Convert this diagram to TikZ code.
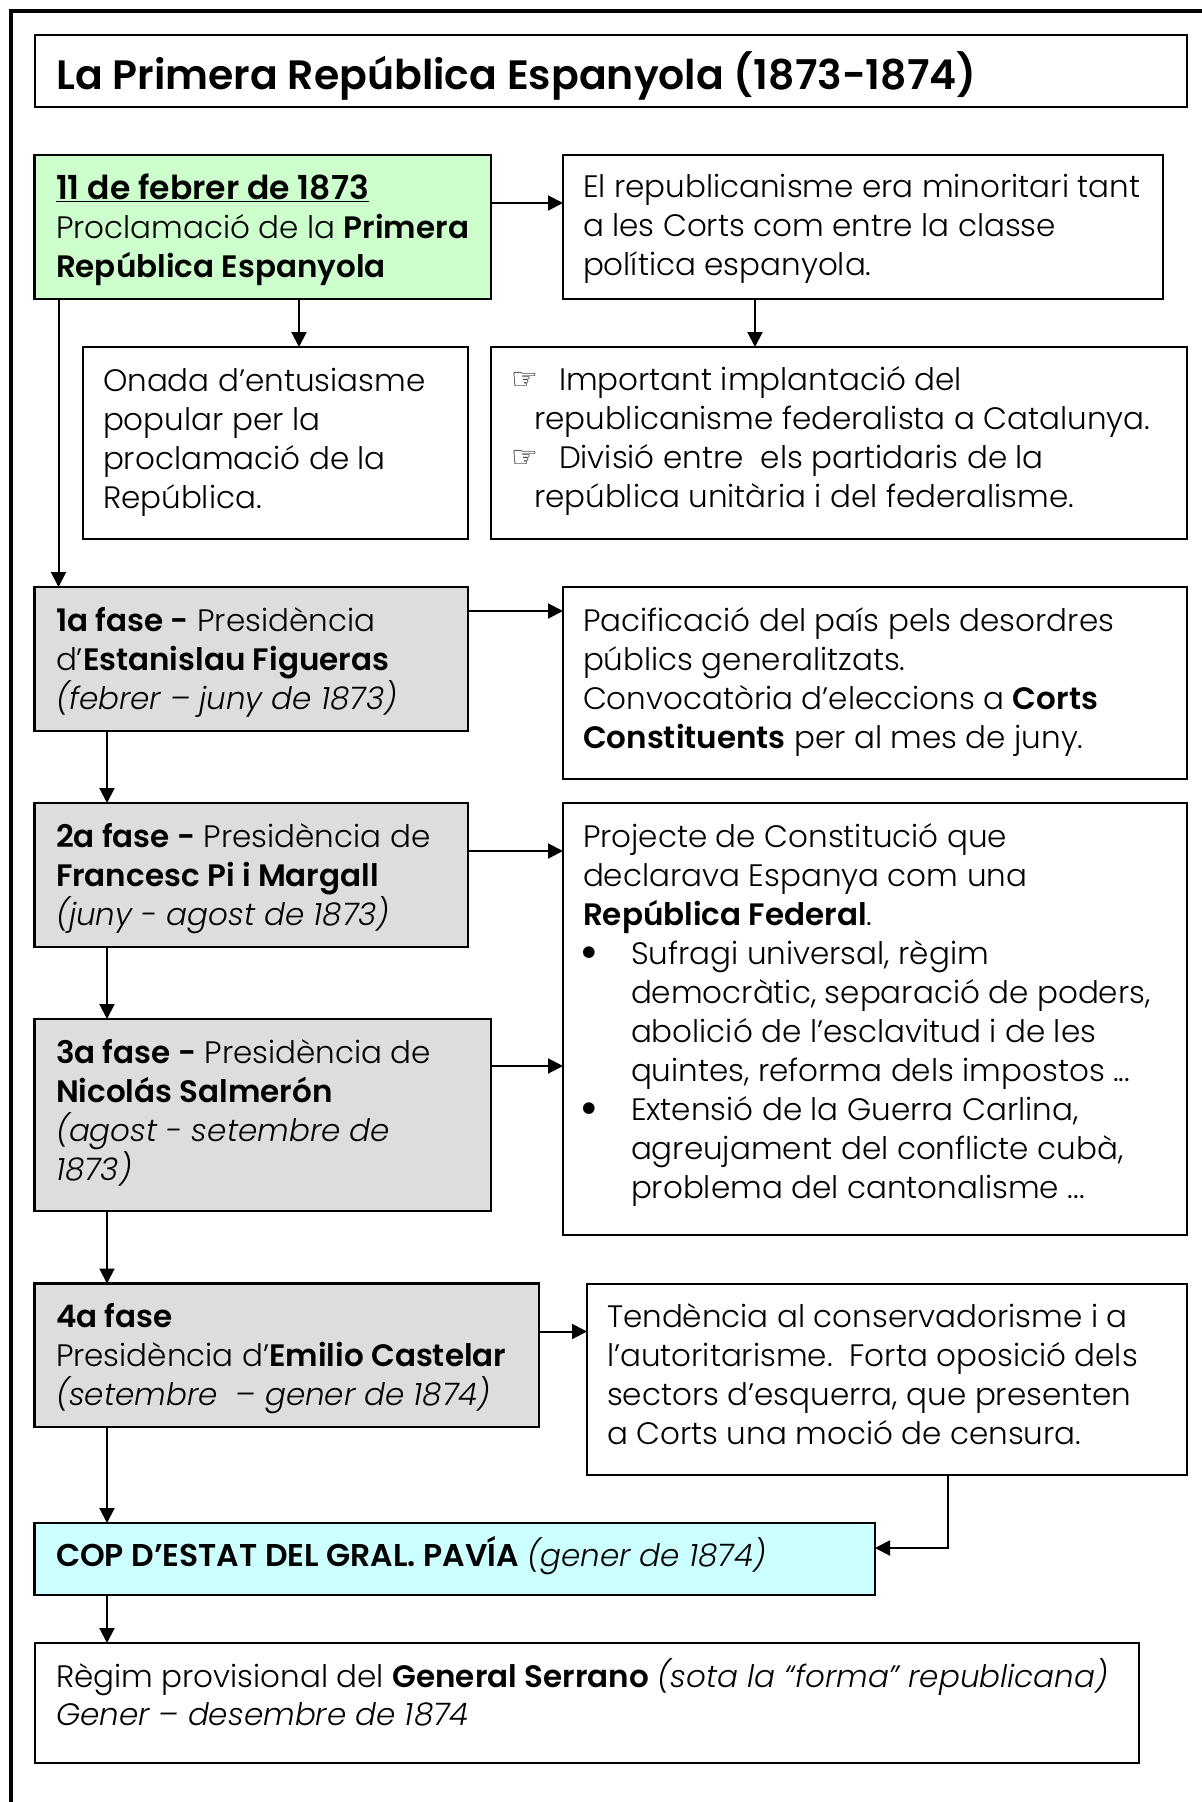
\documentclass[tikz,border=0pt]{standalone}
\usepackage{fontspec}
\setmainfont{Poppins}[UprightFont=Poppins Light,ItalicFont=Poppins Light Italic,BoldFont=Poppins SemiBold,BoldItalicFont=Poppins SemiBold Italic]
\newfontfamily\hand{DejaVu Sans}
\usetikzlibrary{arrows.meta}
\tikzset{
 x=1pt,y=-1pt,
 box/.style={draw=black,line width=2pt,anchor=north west,inner sep=0pt,outer sep=0pt},
 filled/.style={line width=2.8pt,fill=#1},
 txt/.style={anchor=north west,inner sep=0pt,outer sep=0pt,align=left,font=\fontsize{31}{39}\selectfont,execute at begin node=\strut},
 sym/.style={anchor=base west,inner sep=0pt,outer sep=0pt,font=\hand\fontsize{#1}{39}\selectfont},
 arr/.style={draw=black,line width=2pt,-{Triangle[length=15pt,width=15pt]}},
}
\definecolor{grn}{HTML}{CCFFCC}
\definecolor{gry}{HTML}{DDDDDD}
\definecolor{cyn}{HTML}{CCFFFF}
\newcommand{\bx}[6][]{\node[box,#1,minimum width=#4pt-#2pt,minimum height=#5pt-#3pt] (#6) at (#2,#3) {};}
\begin{document}
\begin{tikzpicture}
\useasboundingbox (0,0) rectangle (1202,1802);
\fill[white] (0,0) rectangle (1202,1802);
\coordinate (fa) at (11,1802); \coordinate (fb) at (11,11); \coordinate (fc) at (1202,11);
\draw[line width=3.4pt] (fa) -- (fb) -- (fc);
\bx{34.5}{34.5}{1187}{107}{title}
\bx[filled=grn]{34.5}{155}{491}{299}{green}
\bx{563}{155}{1163}{299}{rep}
\bx{83}{347}{468}{539}{onada}
\bx{491}{347}{1187}{539}{imp}
\bx[filled=gry]{34.5}{587}{468}{731}{f1}
\bx{563}{587}{1187}{779}{pac}
\bx[filled=gry]{34.5}{803}{468}{947}{f2}
\bx{563}{803}{1187}{1235}{proj}
\bx[filled=gry]{34.5}{1019}{491}{1211}{f3}
\bx[filled=gry]{34.5}{1283.5}{539}{1427}{f4}
\bx{587}{1283.5}{1187}{1475}{tend}
\bx[filled=cyn]{34.5}{1523}{875}{1595}{cop}
\bx{34.5}{1643}{1139}{1763}{reg}

\node[anchor=base west,inner sep=0pt,font=\fontsize{41}{48}\selectfont\bfseries] (ttxt) at (56,89) {La Primera República Espanyola (1873-1874)};
\node[txt] (tgreen) at (56,174) {{\fontsize{33}{39}\selectfont\textbf{\underline{11 de febrer de 1873}}}\\Proclamació de la \textbf{Primera}\\\textbf{República Espanyola}};
\node[txt] (trep) at (583,174.5) {El republicanisme era minoritari tant\\a les Corts com entre la classe\\política espanyola.};
\node[txt] (tonada) at (103,368) {Onada d’entusiasme\\popular per la\\proclamació de la\\República.};
\node[sym=30] (h1) at (511,389) {☞};
\node[txt] (timp1) at (559,363.5) {Important implantació del};
\node[txt] (timp2) at (534,402.5) {republicanisme federalista a Catalunya.};
\node[sym=30] (h2) at (511,467) {☞};
\node[txt] (timp3) at (559,441.5) {Divisió entre\ \ els partidaris de la};
\node[txt] (timp4) at (534,480.5) {república unitària i del federalisme.};
\node[txt] (tf1) at (56,607) {\textbf{1a fase -} Presidència\\d’\textbf{Estanislau Figueras}\\\textit{(febrer – juny de 1873)}};
\node[txt] (tpac) at (583,607) {Pacificació del país pels desordres\\públics generalitzats.\\Convocatòria d’eleccions a \textbf{Corts}\\\textbf{Constituents} per al mes de juny.};
\node[txt] (tf2) at (56,823) {\textbf{2a fase -} Presidència de\\\textbf{Francesc Pi i Margall}\\\textit{(juny - agost de 1873)}};
\node[txt] (tproj) at (583,823) {Projecte de Constitució que\\declarava Espanya com una\\\textbf{República Federal}.};
\node[sym=40] (tb1) at (577,967) {•};
\node[txt] (tproj2) at (631,940.5) {Sufragi universal, règim\\democràtic, separació de poders,\\abolició de l’esclavitud i de les\\quintes, reforma dels impostos ...};
\node[sym=40] (tb2) at (577,1123) {•};
\node[txt] (tproj3) at (631,1096) {Extensió de la Guerra Carlina,\\agreujament del conflicte cubà,\\problema del cantonalisme ...};
\node[txt] (tf3) at (56,1039) {\textbf{3a fase -} Presidència de\\\textbf{Nicolás Salmerón}\\\textit{(agost - setembre de}\\\textit{1873)}};
\node[txt] (tf4) at (56,1303) {\textbf{4a fase}\\Presidència d’\textbf{Emilio Castelar}\\\textit{(setembre\ \ – gener de 1874)}};
\node[txt] (ttend) at (607,1303.5) {Tendència al conservadorisme i a\\l’autoritarisme.\ \ Forta oposició dels\\sectors d’esquerra, que presenten\\a Corts una moció de censura.};
\node[txt] (tcop) at (56,1536) {{\fontsize{31.5}{39}\selectfont\textbf{COP D’ESTAT DEL GRAL. PAVÍA}} \textit{(gener de 1874)}};
\node[txt] (treg) at (56,1659) {Règim provisional del \textbf{General Serrano} \textit{(sota la “forma” republicana)}\\[-1pt]\textit{Gener – desembre de 1874}};

\draw[arr] ([yshift=-48pt]green.north east) -- ([yshift=-48pt]rep.north west);
\draw[arr] ([xshift=264.5pt]green.south west) -- ([xshift=264.5pt]green.south west |- onada.north);
\draw[arr] ([xshift=192pt]rep.south west) -- ([xshift=192pt]rep.south west |- imp.north);
\draw[arr] ([xshift=24pt]green.south west) -- ([xshift=24pt]green.south west |- f1.north);
\draw[arr] ([yshift=-24pt]f1.north east) -- ([yshift=-24pt]pac.north west);
\draw[arr] ([xshift=72.5pt]f1.south west) -- ([xshift=72.5pt]f2.north west);
\draw[arr] ([yshift=-48pt]f2.north east) -- ([yshift=-48pt]proj.north west);
\draw[arr] ([xshift=72.5pt]f2.south west) -- ([xshift=72.5pt]f3.north west);
\draw[arr] ([yshift=-47pt]f3.north east) -- ([yshift=-47pt]f3.north east -| proj.west);
\draw[arr] ([xshift=72.5pt]f3.south west) -- ([xshift=72.5pt]f4.north west);
\draw[arr] ([yshift=-48pt]f4.north east) -- ([yshift=-48pt]tend.north west);
\draw[arr] ([xshift=72.5pt]f4.south west) -- ([xshift=72.5pt]cop.north west);
\draw[arr] ([xshift=-239pt]tend.south east) |- ([yshift=-25pt]cop.north east);
\draw[arr] ([xshift=72.5pt]cop.south west) -- ([xshift=72.5pt]reg.north west);
\end{tikzpicture}
\end{document}
